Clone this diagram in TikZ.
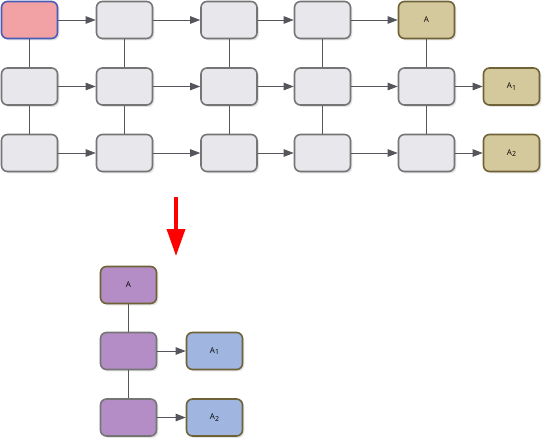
\documentclass[tikz,border=0pt]{standalone}
\usepackage{fontspec}
\setsansfont{Open Sans}
\usetikzlibrary{arrows.meta,shadows}
\definecolor{boxgray}{HTML}{E8E8EC}
\definecolor{edgegray}{HTML}{757575}
\definecolor{linegray}{HTML}{55555C}
\definecolor{startred}{HTML}{F2A2A4}
\definecolor{startblue}{HTML}{4A5CB8}
\definecolor{tanfill}{HTML}{D4C99C}
\definecolor{tanedge}{HTML}{6E6236}
\definecolor{purplefill}{HTML}{B48DC6}
\definecolor{bluefill}{HTML}{A0B6E0}
\newcommand{\sub}[1]{\raisebox{-.35ex}{\scriptsize#1}}
\begin{document}
\begin{tikzpicture}
			[x=1pt,y=-1pt,
			box/.style={rectangle,rounded corners=6pt,draw=edgegray,line width=1.6pt,fill=boxgray,
				minimum width=56pt,minimum height=37pt,inner sep=0pt,font=\sffamily\footnotesize,
				drop shadow={opacity=.22,shadow xshift=1.8pt,shadow yshift=-1.8pt}},
			start/.style={box,fill=startred,draw=startblue},
			result/.style={box,fill=tanfill,draw=tanedge},
			group/.style={box,fill=purplefill},
			leaf/.style={box,fill=bluefill,draw=tanedge},
			link/.style={draw=linegray,line width=.8pt},
			flow/.style={link,-{Triangle[length=10pt,width=7.5pt]}}
			]
			\useasboundingbox (0,0) rectangle (544,440);

			% top grid
			\node[start] (a1) at (29.5,20) {};
			\node[box] (a2) at (124.5,20) {};
			\node[box] (a3) at (229,20) {};
			\node[box] (a4) at (322.5,20) {};
			\node[result] (a5) at (426.5,20) {A};

			\node[box] (b1) at (29.5,86.5) {};
			\node[box] (b2) at (124.5,86.5) {};
			\node[box] (b3) at (229,86.5) {};
			\node[box] (b4) at (322.5,86.5) {};
			\node[box] (b5) at (426.5,86.5) {};
			\node[result] (b6) at (511.5,86.5) {A\sub{1}};

			\node[box] (c1) at (29.5,153) {};
			\node[box] (c2) at (124.5,153) {};
			\node[box] (c3) at (229,153) {};
			\node[box] (c4) at (322.5,153) {};
			\node[box] (c5) at (426.5,153) {};
			\node[result] (c6) at (511.5,153) {A\sub{2}};

			\draw[link] (a1) -- (b1) -- (c1);
			\draw[link] (a2) -- (b2) -- (c2);
			\draw[link] (a3) -- (b3) -- (c3);
			\draw[link] (a4) -- (b4) -- (c4);
			\draw[link] (a5) -- (b5) -- (c5);

			\draw[flow] (a1) -- (a2);
			\draw[flow] (a2) -- (a3);
			\draw[flow] (a3) -- (a4);
			\draw[flow] (a4) -- (a5);
			\draw[flow] (b1) -- (b2);
			\draw[flow] (b2) -- (b3);
			\draw[flow] (b3) -- (b4);
			\draw[flow] (b4) -- (b5);
			\draw[flow] (b5) -- (b6);
			\draw[flow] (c1) -- (c2);
			\draw[flow] (c2) -- (c3);
			\draw[flow] (c3) -- (c4);
			\draw[flow] (c4) -- (c5);
			\draw[flow] (c5) -- (c6);

			% reduced
			\coordinate (down1) at (176,197);
			\coordinate (down2) at (176,256);
			\draw[red,line width=3.5pt,-{Triangle[length=27pt,width=18pt]}] (down1) -- (down2);

			\node[group,draw=tanedge] (p1) at (128.5,285) {A};
			\node[group] (p2) at (128.5,351) {};
			\node[group] (p3) at (128.5,417.5) {};
			\node[leaf] (q2) at (214.5,351) {A\sub{1}};
			\node[leaf] (q3) at (214.5,417.5) {A\sub{2}};

			\draw[link] (p1) -- (p2) -- (p3);
			\draw[flow] (p2) -- (q2);
			\draw[flow] (p3) -- (q3);
		\end{tikzpicture}
\end{document}
